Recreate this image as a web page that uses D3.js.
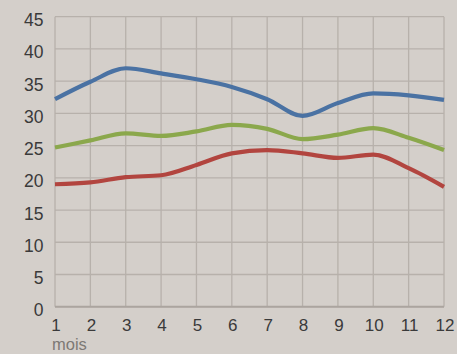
<!DOCTYPE html>
<html><head><meta charset="utf-8">
<script src="https://cdn.jsdelivr.net/npm/d3@7"></script>
<style>
html,body{margin:0;padding:0;background:#d4cfca;}
svg{display:block;}
</style></head>
<body><svg id="c" width="457" height="354"></svg>
<script>
const months = [1,2,3,4,5,6,7,8,9,10,11,12];
const yTicks = [0,5,10,15,20,25,30,35,40,45];
const blueSeries  = [32.2,34.9,37.0,36.2,35.3,34.1,32.2,29.6,31.6,33.1,32.8,32.1];
const greenSeries = [24.7,25.8,26.9,26.5,27.2,28.2,27.6,26.0,26.7,27.7,26.2,24.3];
const redSeries   = [19.0,19.3,20.1,20.4,22.0,23.8,24.3,23.8,23.1,23.6,21.5,18.6];
const seriesColors = ["#4a72a3","#8ba84c","#b2453f"];
const xLabel = "mois";

const svg = d3.select("#c");
const L = 55, R = 444, T = 16.7, B = 306.7;
const x = d3.scaleLinear().domain([1,12]).range([L,R]);
const y = d3.scaleLinear().domain([0,45]).range([B,T]);
const font = "Liberation Sans, Arial, sans-serif";

// grid
const g = svg.append("g");
g.selectAll("line.h").data(yTicks).enter().append("line")
  .attr("x1",L).attr("x2",R).attr("y1",d=>y(d)).attr("y2",d=>y(d))
  .attr("stroke","#b7b1ab").attr("stroke-width",1.3);
g.selectAll("line.v").data(months).enter().append("line")
  .attr("y1",T).attr("y2",B).attr("x1",d=>x(d)).attr("x2",d=>x(d))
  .attr("stroke","#b7b1ab").attr("stroke-width",1.3);
// bottom axis
svg.append("line").attr("x1",L).attr("x2",R).attr("y1",B).attr("y2",B)
  .attr("stroke","#aba59f").attr("stroke-width",2);

// y labels
svg.append("g").selectAll("text").data(yTicks).enter().append("text")
  .attr("x",43.5).attr("y",d=>y(d)+9.5).attr("text-anchor","end")
  .attr("font-family",font).attr("font-size",17.5)
  .attr("fill","#3a3a3a").text(d=>d);
// x labels
svg.append("g").selectAll("text").data(months).enter().append("text")
  .attr("x",d=>x(d)+1).attr("y",330.5).attr("text-anchor","middle")
  .attr("font-family",font).attr("font-size",17)
  .attr("fill","#3a3a3a").text(d=>d);
svg.append("text").attr("x",52).attr("y",349.5).attr("font-family",font)
  .attr("font-size",16.5).attr("fill","#7d7975").text(xLabel);

const line = d3.line().x((d,i)=>x(months[i])).y(d=>y(d)).curve(d3.curveMonotoneX);
[blueSeries,greenSeries,redSeries].forEach((s,i)=>{
  svg.append("path").attr("d",line(s)).attr("fill","none")
    .attr("stroke",seriesColors[i]).attr("stroke-width",4.2).attr("stroke-linecap","butt");
});
</script></body></html>
